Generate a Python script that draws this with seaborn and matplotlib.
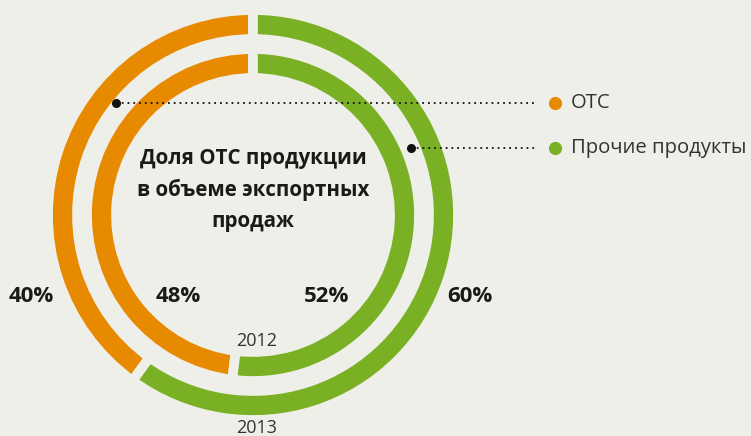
import matplotlib
matplotlib.use("Agg")
import matplotlib.pyplot as plt
import seaborn as sns

# данные
years = ["2012", "2013"]
categories = ["OTC", "Прочие продукты"]
share_2012 = [48, 52]
share_2013 = [40, 60]
title_text = "Доля ОТС продукции\nв объеме экспортных\nпродаж"

BG = "#efefea"
colors = ["#e88a00", "#7ab024"]

sns.set_theme(style="white")
plt.rcParams["font.family"] = ["Open Sans", "DejaVu Sans"]

fig = plt.figure(figsize=(7.51, 4.36), dpi=100, facecolor=BG)
ax = fig.add_axes([0, 0, 1, 1])
ax.set_facecolor(BG)

cx, cy = 253, 221

# внешнее кольцо - 2013
ax.pie(share_2013, colors=colors, startangle=90, counterclock=True,
       center=(cx, cy), radius=205, frame=True,
       wedgeprops=dict(width=29, edgecolor=BG, linewidth=7))
# внутреннее кольцо - 2012
ax.pie(share_2012, colors=colors, startangle=90, counterclock=True,
       center=(cx, cy), radius=166, frame=True,
       wedgeprops=dict(width=29, edgecolor=BG, linewidth=7))
ax.set_xlim(0, 751)
ax.set_ylim(0, 436)
ax.set_aspect("equal")
ax.axis("off")

# подписи процентов
pct_style = dict(fontsize=16, fontweight="bold", color="#1a1a1a",
                 ha="center", va="center")
ax.text(31.5, 436 - 296, f"{share_2013[0]}%", **pct_style)
ax.text(470, 436 - 296, f"{share_2013[1]}%", **pct_style)
ax.text(178, 436 - 296, f"{share_2012[0]}%", **pct_style)
ax.text(327, 436 - 296, f"{share_2012[1]}%", **pct_style)

ax.text(257, 436 - 341, years[0], fontsize=13, color="#333333",
        ha="center", va="center")
ax.text(257, 436 - 428, years[1], fontsize=13, color="#333333",
        ha="center", va="center")

ax.text(253, 436 - 190, title_text, fontsize=14.8, fontweight="bold",
        color="#1a1a1a", ha="center", va="center", linespacing=1.62)

# легенда с пунктирными выносками
for (x0, y0), color, label in zip([(116, 103), (411, 148)], colors, categories):
    y = 436 - y0
    ax.plot([x0, 537], [y, y], color="#111111", linestyle=(0, (1, 2.2)),
            linewidth=1.3)
    ax.plot(x0, y, "o", color="#111111", markersize=5.5)
    ax.plot(555, y, "o", color=color, markersize=8.5)
    ax.text(571, y, label, fontsize=14.6, color="#333333", ha="left", va="center")

fig.savefig("out.png", dpi=100, facecolor=BG)
